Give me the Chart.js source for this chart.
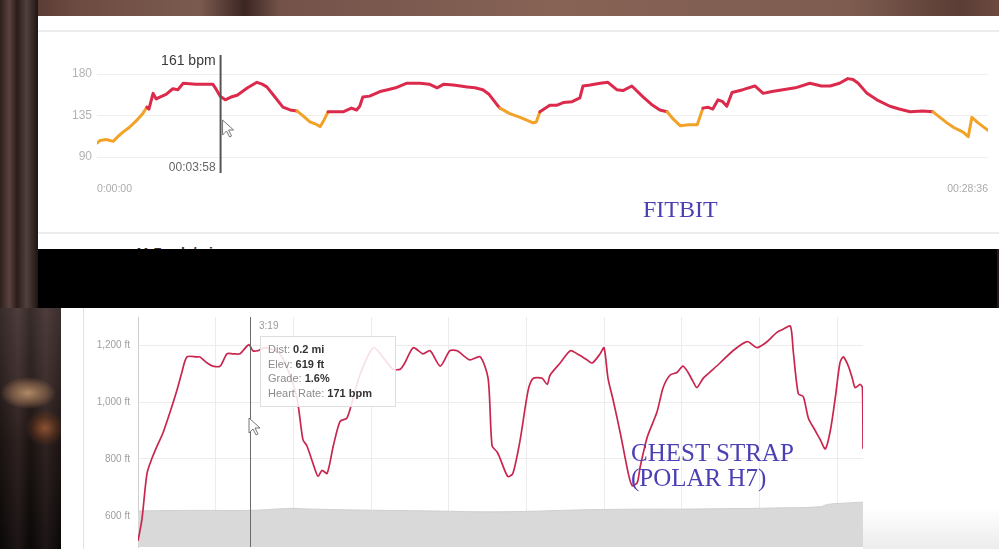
<!DOCTYPE html>
<html>
<head>
<meta charset="utf-8">
<script src="https://cdn.jsdelivr.net/npm/chart.js@4"></script>
<style>
  html, body { margin: 0; padding: 0; }
  body { width: 999px; height: 549px; overflow: hidden; position: relative; background: #241a18; font-family: "Liberation Sans", Arial, sans-serif; }
  .abs { position: absolute; }
  #bgTop { left: 0; top: 0; width: 999px; height: 17px;
    background: linear-gradient(90deg, #4a302a 0%, #6e4c42 8%, #7b5a4f 20%, #3b2622 24.5%, #74524a 28%, #866355 55%, #7e5c50 85%, #5b3d35 96%, #6b4a40 100%); }
  #bgLeft { left: 0; top: 0; width: 38px; height: 308px;
    background: linear-gradient(90deg, #2c1f1d 0%, #5a423e 25%, #2a1c1a 45%, #51403c 70%, #1f1513 100%); }
  #bgLeft2 { left: 0; top: 308px; width: 61px; height: 241px;
    background: radial-gradient(ellipse 28px 16px at 28px 85px, #b08a66 0%, rgba(150,110,80,0.6) 60%, rgba(0,0,0,0) 100%),
                radial-gradient(ellipse 20px 18px at 45px 120px, #8a5030 0%, rgba(120,60,30,0.4) 60%, rgba(0,0,0,0) 100%),
                linear-gradient(90deg, rgba(0,0,0,0.25) 0%, rgba(90,70,68,0.2) 30%, rgba(0,0,0,0.25) 50%, rgba(90,70,68,0.2) 75%, rgba(0,0,0,0.2) 100%),
                linear-gradient(180deg, #4a3a38 0%, #3a2c2a 30%, #241a18 55%, #0e0a0a 100%); }
  #panelTop { left: 38px; top: 16px; width: 961px; height: 233px; background: #fff; }
  .hline { position: absolute; left: 0; width: 100%; height: 2px; background: #ececec; }
  #partial { left: 97px; top: 229px; font-size: 14px; font-weight: bold; color: #333; }
  #band { left: 38px; top: 249px; width: 959px; height: 59px; background: #000; }
  #panelBottom { left: 61px; top: 308px; width: 938px; height: 241px; background: #fff; }
  #vrule { left: 22px; top: 0; width: 1px; height: 241px; background: #e2e2e2; }
  #fadeRight { left: 802px; top: 200px; width: 136px; height: 41px; background: linear-gradient(180deg, #fff 0%, #ececec 100%); }
  .chartBox { position: absolute; left: 0; top: 0; }
  .note { position: absolute; font-family: "Liberation Serif", "DejaVu Serif", serif; color: #4b3fb4; white-space: nowrap; }
</style>
</head>
<body>
<div id="bgTop" class="abs"></div>
<div id="bgLeft" class="abs"></div>
<div id="bgLeft2" class="abs"></div>

<div id="panelTop" class="abs">
  <div class="hline" style="top:14px"></div>
  <div class="hline" style="top:216px"></div>
  <div id="partial" class="abs">11.7 cals/min</div>
  <div class="chartBox" style="width:968px;height:233px"><canvas id="fitbitChart"></canvas></div>
</div>
<div id="band" class="abs"></div>

<div id="panelBottom" class="abs">
  <div id="vrule" class="abs"></div>
  <div id="fadeRight" class="abs"></div>
  <div class="chartBox" style="top:-5px;width:938px;height:258px"><canvas id="polarChart"></canvas></div>
</div>

<div class="note" style="left:643px;top:196px;font-size:24px">FITBIT</div>
<div class="note" style="left:631px;top:440px;font-size:25px;line-height:25px">CHEST STRAP<br>(POLAR H7)</div>

<script>
// ---- Fitbit heart rate (seconds from start, bpm)
const fitbitSec = [0, 6, 18, 31, 40, 50, 62, 77, 88, 96, 100, 108, 114, 121, 133, 146, 156, 166, 190, 223, 230, 237, 247, 258, 270, 290, 308, 318, 327, 340, 358, 372, 385, 398, 410, 420, 430, 437, 445, 460, 474, 490, 500, 506, 512, 525, 545, 560, 575, 597, 622, 640, 655, 668, 686, 700, 713, 728, 743, 755, 770, 776, 795, 815, 840, 846, 853, 872, 885, 898, 915, 930, 936, 950, 969, 984, 1001, 1013, 1030, 1052, 1068, 1084, 1098, 1110, 1123, 1140, 1156, 1167, 1176, 1186, 1196, 1205, 1213, 1223, 1244, 1267, 1283, 1300, 1321, 1345, 1373, 1395, 1412, 1430, 1446, 1456, 1466, 1483, 1502, 1527, 1545, 1566, 1590, 1610, 1637, 1650, 1668, 1678, 1685, 1697, 1716];
const fitbitBpm = [105, 108, 109, 107, 112, 117, 122, 130, 137, 144, 142, 159, 153, 155, 158, 164, 163, 170, 169, 169, 163, 156, 152, 155, 157, 165, 171, 169, 166, 157, 144, 141, 140, 134, 128, 126, 123, 130, 139, 139, 139, 143, 141, 145, 155, 156, 161, 163, 165, 170, 170, 169, 165, 169, 168, 167, 166, 165, 163, 158, 147, 143, 137, 133, 127, 128, 139, 146, 146, 149, 150, 154, 167, 168, 170, 171, 163, 162, 167, 155, 147, 141, 139, 131, 124, 125, 125, 143, 144, 142, 152, 150, 145, 160, 163, 167, 159, 161, 163, 165, 170, 167, 167, 170, 175, 174, 170, 159, 152, 145, 142, 139, 140, 139, 127, 122, 117, 112, 133, 127, 119];
const fitbitTicksY = [90, 135, 180];
const fitbitTicksX = [0, 1716];
const fitbitCursorSec = 238;

// ---- Polar H7 heart rate + elevation (seconds from start)
const polarSec = [0, 7, 16, 25, 34, 44, 57, 69, 78, 87, 105, 110, 123, 133, 146, 158, 169, 181, 197, 204, 213, 226, 252, 270, 283, 293, 300, 315, 320, 327, 336, 347, 359, 371, 380, 394, 418, 439, 453, 466, 474, 489, 506, 519, 537, 554, 567, 581, 590, 608, 622, 629, 638, 643, 657, 666, 679, 693, 702, 718, 727, 732, 750, 768, 780, 798, 807, 821, 828, 835, 844, 857, 871, 878, 887, 892, 905, 922, 933, 945, 958, 968, 977, 986, 993, 1004, 1016, 1034, 1057, 1082, 1100, 1118, 1135, 1146, 1159, 1164, 1173, 1182, 1191, 1203, 1212, 1221, 1230, 1239, 1247, 1253, 1262, 1269, 1274, 1283, 1287, 1288];
const polarBpm = [107, 114, 129, 134, 138, 142, 149, 156, 162, 167, 167, 167, 165, 164, 164, 168, 168, 168, 171, 169, 169, 170, 168, 161, 153, 140, 138, 130, 128, 130, 129, 138, 146, 147, 152, 161, 170, 166, 163, 163, 165, 170, 168, 169, 164, 169, 169, 167, 166, 167, 160, 138, 136, 134, 128, 129, 140, 156, 160, 160, 158, 161, 165, 169, 168, 166, 165, 168, 170, 160, 153, 142, 129, 125, 126, 131, 141, 149, 157, 161, 162, 164, 162, 159, 157, 160, 162, 165, 169, 172, 170, 172, 175, 176, 177, 169, 155, 154, 147, 143, 140, 137, 143, 154, 165, 167, 164, 160, 157, 158, 157, 137];
const elevSec = [0, 100, 200, 270, 300, 400, 520, 643, 821, 1000, 1150, 1212, 1225, 1250, 1288];
const elevFt = [617, 619, 619, 626, 624, 620, 617, 614, 622, 624, 628, 632, 640, 644, 648];
const polarTicksY = [600, 800, 1000, 1200];
const polarGridSec = [0, 138, 276, 414, 552, 690, 828, 966, 1104, 1242];
const polarCursorSec = 199;
const tooltipRows = [["Dist: ", "0.2 mi"], ["Elev: ", "619 ft"], ["Grade: ", "1.6%"], ["Heart Rate: ", "171 bpm"]];

const RED = '#dc2a4c';
const ORANGE = '#f2a227';

function toXY(xs, ys) {
    return xs.map((x, i) => ({ x: x, y: ys[i] }));
}

function fmtTime(s) {
    const h = Math.floor(s / 3600), m = Math.floor(s % 3600 / 60), sec = s % 60;
    const p = n => String(n).padStart(2, '0');
    return s === 0 ? '0:00:00' : p(h) + ':' + p(m) + ':' + p(sec);
}

function drawPointer(ctx, x, y) {
    ctx.save();
    ctx.beginPath();
    ctx.moveTo(x, y);
    ctx.lineTo(x, y + 15);
    ctx.lineTo(x + 4, y + 11);
    ctx.lineTo(x + 7, y + 17);
    ctx.lineTo(x + 9, y + 16);
    ctx.lineTo(x + 6, y + 10);
    ctx.lineTo(x + 11, y + 10);
    ctx.closePath();
    ctx.fillStyle = '#fff';
    ctx.fill();
    ctx.strokeStyle = '#777';
    ctx.lineWidth = 1;
    ctx.stroke();
    ctx.restore();
}

// vertical marker for the fitbit chart
const fitbitCursor = {
    id: 'fitbitCursor',
    afterDraw(chart) {
        const ctx = chart.ctx;
        const x = chart.scales.x.getPixelForValue(fitbitCursorSec);
        ctx.save();
        ctx.strokeStyle = '#555';
        ctx.lineWidth = 2;
        ctx.beginPath();
        ctx.moveTo(x, 39);
        ctx.lineTo(x, 157);
        ctx.stroke();
        ctx.textAlign = 'right';
        ctx.textBaseline = 'middle';
        ctx.fillStyle = '#3a3a3a';
        ctx.font = '14px "Liberation Sans", Arial, sans-serif';
        ctx.fillText('161 bpm', x - 5, 45);
        ctx.fillStyle = '#666';
        ctx.font = '12px "Liberation Sans", Arial, sans-serif';
        ctx.fillText(fmtTime(fitbitCursorSec), x - 5, 152);
        ctx.restore();
        drawPointer(ctx, x + 2, 104);
    }
};

// vertical marker + hover box for the chest strap chart
const polarCursor = {
    id: 'polarCursor',
    afterDraw(chart) {
        const ctx = chart.ctx;
        const area = chart.chartArea;
        const x = chart.scales.x.getPixelForValue(polarCursorSec);
        const top = area.top;
        ctx.save();
        ctx.strokeStyle = '#6a6a6a';
        ctx.lineWidth = 1;
        ctx.beginPath();
        ctx.moveTo(Math.round(x) + 0.5, top);
        ctx.lineTo(Math.round(x) + 0.5, area.bottom);
        ctx.stroke();

        ctx.font = '10px "Liberation Sans", Arial, sans-serif';
        ctx.fillStyle = '#9a9a9a';
        ctx.textBaseline = 'middle';
        ctx.fillText('3:19', x + 9, top + 9);

        const bx = x + 10, by = top + 19, bw = 135, bh = 70;
        ctx.fillStyle = 'rgba(255,255,255,0.86)';
        ctx.fillRect(bx, by, bw, bh);
        ctx.strokeStyle = '#dedede';
        ctx.strokeRect(bx + 0.5, by + 0.5, bw, bh);

        tooltipRows.forEach((row, i) => {
            const ty = by + 14 + i * 14.5;
            ctx.font = '11px "Liberation Sans", Arial, sans-serif';
            ctx.fillStyle = '#8c8c8c';
            ctx.fillText(row[0], bx + 8, ty);
            const w = ctx.measureText(row[0]).width;
            ctx.font = 'bold 11px "Liberation Sans", Arial, sans-serif';
            ctx.fillStyle = '#333';
            ctx.fillText(row[1], bx + 8 + w, ty);
        });
        ctx.restore();
        drawPointer(ctx, x - 1, top + 101);
    }
};

new Chart(document.getElementById('fitbitChart').getContext('2d'), {
    type: 'line',
    data: {
        datasets: [{
            label: 'Heart rate',
            data: toXY(fitbitSec, fitbitBpm),
            borderColor: RED,
            borderWidth: 3,
            pointRadius: 0,
            tension: 0,
            borderJoinStyle: 'round',
            borderCapStyle: 'round',
            segment: {
                borderColor: ctx => (ctx.p0.parsed.y < 138.5 || ctx.p1.parsed.y < 138.5) ? ORANGE : RED
            }
        }]
    },
    options: {
        responsive: true,
        maintainAspectRatio: false,
        animation: false,
        layout: { padding: { top: 58, right: 0, left: 0, bottom: 0 } },
        plugins: { legend: { display: false }, tooltip: { enabled: false } },
        scales: {
            x: {
                type: 'linear',
                min: 0,
                max: 1716,
                afterBuildTicks: axis => { axis.ticks = fitbitTicksX.map(v => ({ value: v })); },
                afterFit: axis => { axis.height = 92; },
                grid: { display: false },
                border: { display: false },
                ticks: {
                    align: 'inner',
                    padding: 18,
                    maxRotation: 0,
                    color: '#ababab',
                    font: { family: 'Liberation Sans', size: 10.5 },
                    callback: v => fmtTime(v)
                }
            },
            y: {
                min: 90,
                max: 180,
                afterBuildTicks: axis => { axis.ticks = fitbitTicksY.map(v => ({ value: v })); },
                afterFit: axis => { axis.width = 59; },
                grid: { color: '#efefef', drawTicks: false },
                border: { display: false },
                ticks: {
                    padding: 5,
                    color: '#b3b3b3',
                    font: { family: 'Liberation Sans', size: 12 }
                }
            }
        }
    },
    plugins: [fitbitCursor]
});

new Chart(document.getElementById('polarChart').getContext('2d'), {
    type: 'line',
    data: {
        datasets: [{
            label: 'Heart Rate',
            data: toXY(polarSec, polarBpm),
            yAxisID: 'y1',
            borderColor: '#c8264f',
            borderWidth: 1.7,
            pointRadius: 0,
            tension: 0.25,
            order: 1
        }, {
            label: 'Elevation',
            data: toXY(elevSec, elevFt),
            yAxisID: 'y',
            borderColor: '#cfcfcf',
            borderWidth: 1,
            backgroundColor: '#d9d9d9',
            fill: 'start',
            pointRadius: 0,
            tension: 0.4,
            order: 2
        }]
    },
    options: {
        responsive: true,
        maintainAspectRatio: false,
        animation: false,
        layout: { padding: { top: 0, right: 136, left: 0, bottom: 0 } },
        plugins: { legend: { display: false }, tooltip: { enabled: false } },
        scales: {
            x: {
                type: 'linear',
                min: 0,
                max: 1288,
                afterBuildTicks: axis => { axis.ticks = polarGridSec.map(v => ({ value: v })); },
                afterFit: axis => { axis.height = 2; },
                grid: { color: '#ececec', drawTicks: false },
                border: { display: false },
                ticks: { display: false }
            },
            y: {
                min: 490,
                max: 1300,
                afterBuildTicks: axis => { axis.ticks = polarTicksY.map(v => ({ value: v })); },
                afterFit: axis => { axis.width = 77; },
                grid: { color: '#ececec', drawTicks: false },
                border: { display: true, color: '#cfcfcf' },
                ticks: {
                    padding: 8,
                    color: '#a0a0a0',
                    font: { family: 'Liberation Sans', size: 10 },
                    callback: v => v.toLocaleString('en-US') + ' ft'
                }
            },
            y1: {
                display: false,
                min: 105,
                max: 180
            }
        }
    },
    plugins: [polarCursor]
});
</script>
</body>
</html>
